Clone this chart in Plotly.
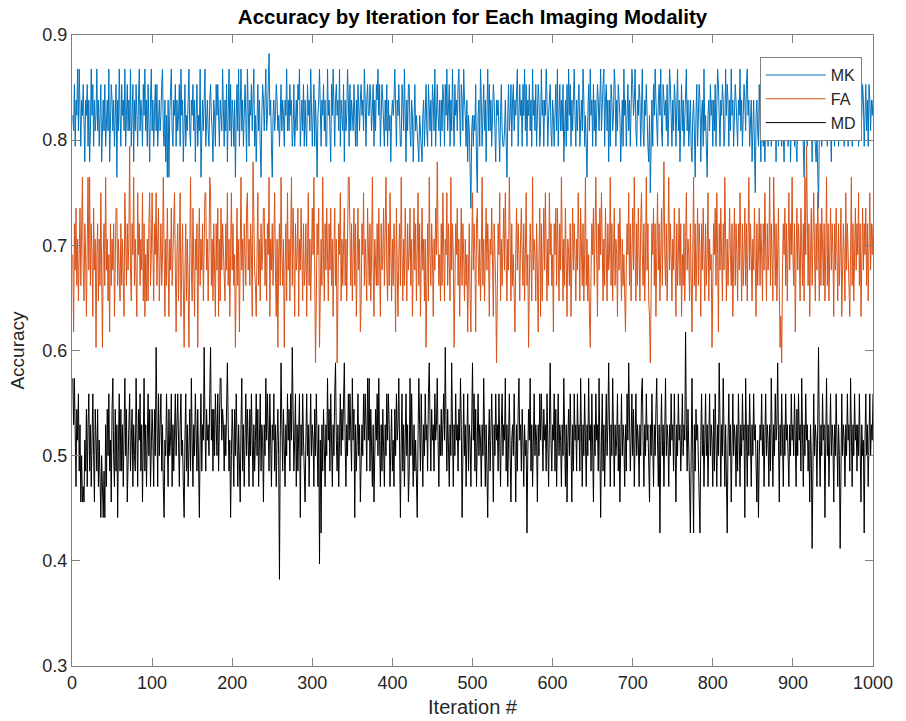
import plotly.graph_objects as go

# Number of test cases per iteration (accuracy = correct / n_test)
n_test = 68

# Correct classifications per iteration (1..1000)
mk_correct = [
56,55,58,54,57,56,59,55,59,57, 54,57,56,58,55,53,57,56,58,54, 57,53,55,59,56,58,54,57,55,56, 59,55,57,54,56,58,53,56,57,55, 58,54,56,57,55,59,53,56,58,57,
55,57,54,56,58,52,57,55,59,56, 54,58,56,57,55,59,54,56,58,55, 57,55,59,54,56,58,53,57,55,58, 56,54,57,59,55,57,56,54,58,56, 59,55,57,54,58,56,53,57,59,55,
57,54,56,58,55,58,54,56,57,55, 56,58,59,55,54,57,53,56,52,57, 52,56,58,59,55,54,57,56,58,54, 57,55,56,58,54,59,56,57,53,56, 58,54,56,55,57,59,55,54,57,56,
58,55,57,53,56,58,54,56,55,59, 52,56,57,55,58,59,54,56,57,55, 54,57,58,56,55,53,57,56,54,58, 56,58,55,54,57,56,55,59,56,54, 57,55,58,53,56,59,55,58,54,57,
56,54,57,52,56,58,55,59,54,57, 59,55,57,54,56,58,56,53,59,55, 54,57,56,58,55,57,59,54,56,53, 56,58,55,57,54,52,56,58,57,55, 57,59,55,56,58,60,56,57,54,52,
56,57,55,56,58,57,55,56,54,57, 58,55,57,56,54,57,56,59,55,57, 55,58,56,57,54,55,58,54,56,57, 55,58,57,59,54,56,57,55,58,54, 57,55,54,58,56,57,55,59,56,54,
56,58,54,57,55,52,56,57,59,55, 54,57,56,58,55,57,54,54,59,56, 57,55,53,58,56,59,55,54,57,58, 56,57,55,59,54,57,56,55,58,53, 57,55,56,59,57,54,58,55,57,56,
55,58,56,54,57,54,58,56,55,57, 58,56,57,55,59,57,54,57,58,56, 56,58,57,55,57,58,54,57,55,58, 57,59,56,58,54,56,58,57,55,54, 57,55,58,54,57,55,56,53,56,57,
56,57,59,55,54,57,56,58,55,54, 54,58,57,55,59,56,53,57,55,58, 58,55,54,57,56,53,57,58,55,56, 55,54,53,56,55,54,53,56,57,54, 56,58,55,54,58,56,55,57,54,58,
57,55,59,54,57,58,56,55,57,54, 57,55,58,57,54,58,56,59,55,57, 58,54,57,55,59,56,54,58,56,57, 55,58,59,56,54,58,57,55,59,57, 56,54,57,53,56,55,53,50,55,56,
54,56,55,58,53,51,56,57,54,59, 57,54,56,58,55,57,53,56,59,55, 58,55,57,54,56,58,57,55,53,57, 56,57,54,53,56,58,55,54,54,55, 57,54,52,56,58,55,56,58,54,57,
58,55,57,56,58,59,54,57,58,56, 57,54,58,56,59,55,58,54,57,56, 58,55,57,54,59,56,57,55,58,54, 56,58,57,54,55,59,56,57,54,57, 56,59,57,54,56,57,58,55,54,57,
56,54,57,58,55,59,54,56,58,55, 57,55,58,53,56,57,54,58,55,59, 56,58,54,57,55,57,59,56,54,57, 55,57,58,54,56,57,55,59,57,54, 56,54,52,56,58,55,59,56,57,54,
58,55,57,54,56,58,57,55,57,59, 55,57,58,59,54,57,58,55,57,53, 57,54,58,57,55,56,59,58,54,57, 55,58,57,56,53,56,57,54,59,56, 57,54,56,58,55,57,54,56,59,58,
56,57,59,55,54,57,56,58,57,54, 57,59,55,54,57,56,58,55,54,53, 56,51,55,57,54,58,56,59,57,55, 54,57,58,56,59,55,54,58,57,56, 57,55,58,54,56,59,58,55,54,57,
55,58,57,54,56,59,55,57,53,56, 58,55,57,54,56,57,59,55,57,54, 56,57,54,53,56,57,55,52,56,58, 54,56,58,57,53,56,57,54,59,55, 56,54,52,56,57,55,58,56,57,54,
57,55,58,54,56,59,58,55,54,57, 56,58,57,54,55,59,56,58,57,54, 57,55,59,56,57,54,56,58,57,55, 54,57,56,59,55,57,54,56,58,57, 55,58,59,56,57,54,56,57,53,56,
57,54,51,56,57,55,54,58,56,53, 57,56,54,57,53,56,58,55,54,57, 56,57,54,56,58,57,55,56,53,57, 56,54,57,56,58,54,57,55,53,57, 58,55,57,54,56,57,53,56,58,57,
56,54,57,54,53,56,57,55,56,57, 55,56,54,52,56,57,55,54,58,56, 57,55,56,53,56,57,55,54,53,55, 52,50,55,56,57,54,56,58,55,57, 56,57,54,58,56,57,55,53,57,58,
56,54,57,56,58,57,54,56,57,55, 58,55,57,54,56,59,58,56,54,57, 56,58,57,54,56,57,55,58,57,55, 57,54,58,57,55,56,58,57,54,57, 58,55,57,54,58,57,55,57,56,57,
]

fa_correct = [
47,42,49,46,50,45,48,44,47,50, 45,48,52,46,44,49,47,43,48,52, 46,52,45,49,47,43,50,46,48,41, 47,49,44,48,45,51,46,41,47,49, 45,52,46,48,44,47,42,49,45,48,
46,49,43,47,50,50,45,48,46,44, 49,45,48,46,43,51,47,45,49,46, 48,54,46,44,49,47,52,45,48,46, 43,51,47,49,45,48,46,51,44,49, 43,47,44,48,44,49,51,45,47,51,
46,44,49,47,51,45,48,50,44,47, 49,45,47,52,46,43,48,45,50,47, 43,48,46,50,45,47,49,51,46,42, 47,49,44,48,51,43,47,49,45,41, 46,49,44,48,45,41,47,52,46,44,
50,45,43,48,46,49,41,47,50,45, 48,46,49,44,47,51,51,46,48,44, 47,52,51,45,48,44,49,46,43,49, 46,50,43,48,44,50,46,49,47,45, 44,49,46,51,45,48,43,47,51,46,
49,45,47,41,48,50,45,48,42,47, 52,46,48,44,49,47,45,50,51,46, 48,45,49,47,43,53,48,46,45,43, 47,51,45,48,44,49,46,47,50,50, 45,48,44,49,47,52,43,48,46,49,
45,49,51,46,43,48,41,47,49,45, 52,47,45,48,41,46,49,44,51,46, 48,44,47,52,45,50,47,43,49,46, 47,50,43,48,46,50,47,44,49,45, 46,49,43,48,51,45,48,44,47,50,
47,52,46,40,44,49,47,50,41,46, 48,45,52,47,44,49,46,50,47,44, 49,46,50,45,48,43,47,50,45,48, 40,46,49,47,51,44,48,45,47,50, 45,48,44,47,52,52,47,45,49,44,
47,50,45,49,43,47,50,46,48,42, 44,49,47,51,45,48,46,44,50,47, 45,49,44,47,52,46,43,48,46,45, 49,45,50,47,43,49,46,47,50,45, 48,52,46,44,49,45,51,47,44,48,
45,49,47,42,50,46,43,47,49,45, 52,47,44,48,45,50,47,44,49,46, 47,50,45,48,43,47,50,46,49,44, 47,51,45,49,43,47,50,46,48,44, 48,41,46,49,44,52,47,45,49,47,
43,48,46,50,47,53,48,45,47,44, 49,45,51,47,44,48,47,51,45,49, 47,44,52,46,49,47,41,46,49,47, 50,45,48,43,47,50,45,49,47,44, 48,45,47,42,46,49,44,42,47,51,
46,49,47,42,49,50,47,45,48,44, 47,52,45,48,44,47,50,46,49,47, 43,48,47,50,45,43,49,47,45,40, 46,49,47,51,44,48,45,47,50,46, 51,47,44,48,46,52,47,44,49,45,
47,43,42,47,50,46,49,47,44,48, 50,47,45,49,44,47,51,45,47,41, 45,49,47,44,52,46,48,47,44,49, 46,42,47,50,43,49,44,47,50,46, 51,47,44,48,45,51,47,49,45,47,
42,49,47,50,45,50,47,44,49,46, 52,47,44,48,45,50,47,43,48,47, 45,49,43,47,50,46,49,47,44,48, 46,51,47,44,50,47,45,49,44,47, 52,45,48,44,47,43,41,46,49,47,
50,45,48,52,47,43,49,46,50,47, 51,47,44,48,45,50,47,44,49,46, 47,52,45,49,44,47,50,45,48,47, 43,49,46,50,47,44,48,45,47,43, 42,46,49,47,51,45,49,44,47,50,
46,52,47,44,49,45,50,47,44,49, 51,47,45,49,44,47,52,46,49,44, 43,40,46,49,47,50,45,49,43,47, 51,46,49,44,47,50,45,48,53,47, 45,49,44,47,52,46,49,47,44,48,
46,50,47,43,49,45,47,50,45,49, 43,47,45,49,44,47,51,46,48,47, 44,49,46,42,47,52,45,49,44,47, 50,45,49,47,43,49,46,50,47,44, 49,45,47,51,44,48,46,47,41,46,
49,47,50,45,51,47,42,49,46,50, 47,44,49,46,52,47,44,48,45,47, 50,47,45,49,43,47,50,45,49,47, 44,49,46,51,47,44,49,45,47,50, 45,49,44,47,52,46,49,47,44,48,
46,50,47,43,49,45,47,50,45,49, 47,44,49,46,51,47,44,49,46,47, 52,45,49,47,44,52,47,45,49,44, 47,50,45,41,43,40,46,49,47,50, 45,49,44,47,51,46,49,47,52,47,
45,49,42,47,50,46,49,47,44,50, 47,45,49,44,52,47,54,47,45,49, 43,47,50,45,49,51,47,44,49,46, 51,47,44,49,45,50,47,45,49,44, 47,52,45,49,44,47,50,46,49,47,
43,49,46,50,47,44,49,45,47,50, 43,46,49,47,44,51,46,49,47,44, 43,47,52,45,49,44,47,50,46,49, 47,51,45,49,43,47,50,46,49,47, 50,45,49,44,47,51,46,49,47,49,
]

md_correct = [
39,36,39,34,32,37,35,38,33,36, 31,34,31,32,31,35,33,37,32,36, 38,33,36,32,35,38,34,31,37,34, 33,37,32,35,33,30,34,31,30,33, 30,36,32,37,34,38,33,35,31,37,
39,34,32,37,33,36,30,35,38,33, 37,33,36,32,35,39,34,37,31,35, 36,38,33,35,37,32,36,34,33,39, 34,32,37,35,38,33,36,31,35,39, 33,36,32,35,38,34,37,32,35,37,
35,32,37,34,41,36,32,38,34,36, 38,33,36,32,30,35,34,38,35,32, 37,34,35,38,32,36,33,35,38,34, 36,38,35,32,36,38,34,35,32,30, 35,38,33,36,32,35,37,33,39,35,
32,36,34,38,35,33,37,34,30,35, 38,33,36,35,41,36,33,37,35,36, 34,38,41,35,37,33,37,34,38,36, 34,38,33,36,39,39,35,37,36,33, 36,34,38,40,36,33,35,30,34,37,
35,32,37,34,38,35,32,36,34,31, 36,39,33,36,32,35,38,34,37,35, 32,37,34,38,35,32,36,33,35,38, 34,37,32,35,38,33,36,35,31,36, 34,39,35,38,36,33,38,35,32,36,
35,38,33,36,32,35,37,34,26,35, 40,36,33,37,35,32,36,34,38,35, 37,33,38,35,41,36,33,35,38,32, 36,33,35,38,30,36,34,38,35,32, 31,35,38,34,36,32,35,38,34,36,
35,32,37,34,38,35,32,36,27,35, 29,36,33,37,35,32,36,34,39,35, 37,33,38,35,32,36,34,38,40,35, 33,36,32,35,38,34,37,35,37,40, 35,32,36,34,38,35,38,36,33,39,
35,37,30,36,33,35,38,34,36,31, 33,36,34,38,35,38,36,33,39,35, 39,33,37,35,32,36,31,34,37,35, 38,34,39,35,32,36,33,37,35,32, 36,34,38,35,38,36,32,35,37,33,
35,32,37,34,38,35,36,39,34,30, 35,38,33,36,32,35,38,34,36,31, 33,39,34,38,35,32,36,33,35,32, 30,35,39,36,33,38,35,32,36,34, 38,35,36,33,38,40,36,33,37,35,
36,33,38,35,36,39,35,32,36,34, 37,34,36,38,35,41,36,33,37,35, 32,36,34,40,35,32,36,34,38,35, 36,33,37,35,39,36,30,35,38,34, 36,32,35,38,33,36,35,32,36,40,
35,38,33,37,32,35,38,34,36,35, 32,36,34,39,35,32,36,33,30,35, 37,33,36,38,35,31,36,34,38,35, 36,33,38,35,32,36,38,34,36,35, 39,33,36,32,35,38,34,31,35,36,
34,38,35,31,36,33,37,39,35,36, 33,37,35,32,36,34,35,29,34,37, 35,39,33,36,32,35,38,34,36,35, 31,36,34,38,35,38,36,33,37,35, 36,33,38,35,32,36,40,35,33,36,
35,38,33,37,32,35,38,34,36,35, 32,36,34,39,35,32,36,31,35,37, 34,38,35,31,36,33,38,35,36,33, 38,35,36,33,39,35,32,36,34,38, 35,32,36,34,39,35,36,33,38,35,
31,36,34,38,35,36,33,39,35,30, 35,38,33,36,32,35,38,34,36,40, 35,32,36,34,39,35,32,36,34,35, 38,33,36,31,35,38,34,36,35,32, 36,33,38,35,40,36,33,35,38,34,
37,32,35,38,34,36,35,32,36,34, 38,39,35,32,36,34,38,35,36,33, 31,36,34,38,35,32,36,34,37,39, 35,32,36,29,35,38,34,36,32,35, 39,34,36,35,32,36,34,38,35,36,
33,38,35,31,36,34,38,35,36,33, 35,38,34,36,35,42,36,33,37,35, 32,29,35,39,34,29,36,33,37,35, 36,33,31,29,35,38,34,36,32,35, 38,34,36,32,35,38,34,36,35,32,
37,33,38,35,32,36,34,40,35,32, 36,34,39,35,32,36,33,29,35,38, 34,36,31,35,38,34,36,35,32,36, 33,38,35,32,36,34,38,35,36,30, 39,35,32,36,34,38,35,32,36,34,
38,35,36,33,31,35,30,34,36,35, 38,34,36,32,35,38,34,36,35,32, 36,33,39,35,32,36,34,38,35,36, 40,35,31,36,34,38,35,32,36,34, 38,35,36,33,32,36,34,38,35,36,
34,38,35,32,37,34,38,35,36,33, 39,35,32,36,34,38,35,36,33,35, 31,36,34,28,35,38,34,36,35,32, 36,41,35,32,36,34,38,35,36,30, 35,39,34,36,32,35,38,34,36,35,
31,36,34,38,35,32,36,34,28,35, 38,34,36,35,32,36,34,38,35,36, 33,39,35,32,36,34,38,35,36,33, 36,34,38,35,31,36,34,35,29,35, 38,34,36,32,35,38,34,36,35,38,
]

series_names = ["MK", "FA", "MD"]
series_colors = ["#0072BD", "#D95319", "#000000"]

x_ticks = [0, 100, 200, 300, 400, 500, 600, 700, 800, 900, 1000]
y_ticks = [0.3, 0.4, 0.5, 0.6, 0.7, 0.8, 0.9]
y_tick_labels = ["0.3", "0.4", "0.5", "0.6", "0.7", "0.8", "0.9"]

assert len(mk_correct) == 1000, len(mk_correct)
assert len(fa_correct) == 1000, len(fa_correct)
assert len(md_correct) == 1000, len(md_correct)

fig = go.Figure()
for name, color, counts in zip(series_names, series_colors, [mk_correct, fa_correct, md_correct]):
    iters = list(range(1, len(counts) + 1))
    fig.add_trace(go.Scatter(
        x=iters, y=[c / n_test for c in counts], mode="lines", name=name,
        line=dict(color=color, width=1),
    ))

axis_col = "#808080"
font_family = "Liberation Sans, Arial, Helvetica, sans-serif"

fig.update_layout(
    width=906, height=721,
    margin=dict(l=72, r=33, t=35, b=55, autoexpand=False),
    paper_bgcolor="white", plot_bgcolor="white",
    font=dict(family=font_family, color="#262626", size=18),
    title=dict(text="<b>Accuracy by Iteration for Each Imaging Modality</b>",
               x=0.5, xref="paper", xanchor="center",
               y=1 - 17 / 721, yref="container", yanchor="middle",
               font=dict(size=20.5, color="#000000")),
    legend=dict(x=0.986, y=0.965, xanchor="right", yanchor="top",
                bgcolor="white", bordercolor=axis_col, borderwidth=1,
                font=dict(size=16), itemwidth=60, tracegroupgap=0),
    showlegend=True,
)
fig.update_xaxes(
    range=[0, 1000], tickmode="array", tickvals=x_ticks,
    ticks="inside", ticklen=8, tickcolor=axis_col, tickwidth=1,
    showline=True, linecolor=axis_col, linewidth=1, mirror="ticks",
    showgrid=False, zeroline=False, automargin=False,
    title=dict(text="Iteration #", font=dict(size=20), standoff=8),
)
fig.update_yaxes(
    range=[0.3, 0.9], tickmode="array", tickvals=y_ticks, ticktext=y_tick_labels,
    ticks="inside", ticklen=8, tickcolor=axis_col, tickwidth=1,
    showline=True, linecolor=axis_col, linewidth=1, mirror="ticks",
    showgrid=False, zeroline=False, automargin=False,
    title=dict(text="Accuracy", font=dict(size=19), standoff=12),
)

fig.write_html("out.html")
